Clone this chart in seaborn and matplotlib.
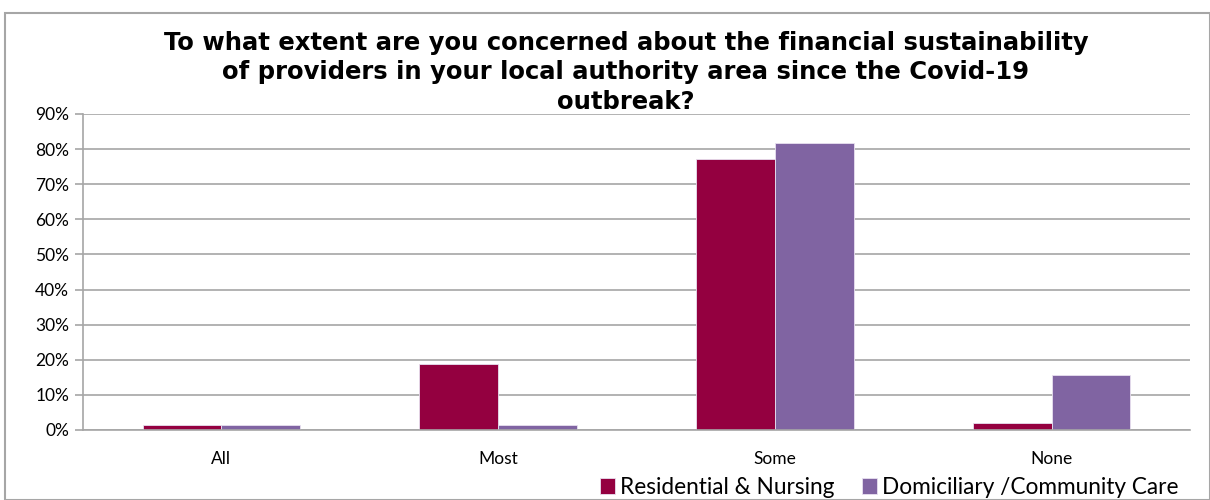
import matplotlib
matplotlib.use("Agg")
import matplotlib.pyplot as plt
import seaborn as sns
import pandas as pd
from matplotlib.patches import Rectangle
from matplotlib.ticker import PercentFormatter, MultipleLocator

categories = ["All", "Most", "Some", "None"]
series_names = ["Residential & Nursing", "Domiciliary /Community Care"]
residential = [1.3, 18.8, 77.2, 2.1]
domiciliary = [1.3, 1.3, 81.8, 15.7]
colors = ["#940040", "#8064A2"]
title = ("To what extent are you concerned about the financial sustainability\n"
         "of providers in your local authority area since the Covid-19\n"
         "outbreak?")

df = pd.DataFrame({
    "cat": categories * 2,
    "val": residential + domiciliary,
    "series": [series_names[0]] * 4 + [series_names[1]] * 4,
})

sns.set_theme(style="white")
plt.rcParams['font.family'] = ['Lato', 'DejaVu Sans']

fig = plt.figure(figsize=(12.1, 5.0), dpi=100)
fig.patches.append(Rectangle((5/1210, 0), 1 - 5/1210, 1 - 13/500, transform=fig.transFigure,
                             fill=False, edgecolor="#A6A6A6", linewidth=1.5))
ax = fig.add_axes([83/1210, 70/500, 1107/1210, 316/500])

sns.barplot(data=df, x="cat", y="val", hue="series", order=categories,
            hue_order=series_names, palette=colors, width=0.57, saturation=1,
            ax=ax, legend=True, edgecolor="#E8E0F0", linewidth=0.6)

ax.set_ylim(0, 90)
ax.set_xlim(-0.5, 3.5)
ax.yaxis.set_major_locator(MultipleLocator(10))
ax.yaxis.set_major_formatter(PercentFormatter(decimals=0))
ax.grid(axis="y", color="#A6A6A6", linewidth=1.2)
ax.set_axisbelow(True)
for s in ["top", "right"]:
    ax.spines[s].set_visible(False)
ax.spines["left"].set_color("#A6A6A6")
ax.spines["bottom"].set_color("#A6A6A6")
ax.spines["left"].set_linewidth(1.2)
ax.spines["bottom"].set_linewidth(1.2)
ax.set_xlabel("")
ax.set_ylabel("")
ax.set_xticks(range(4))
ax.set_xticklabels(categories)
ax.set_xticks([-0.5, 0.5, 1.5, 2.5, 3.5], minor=True)
ax.tick_params(axis="x", which="major", length=0, labelsize=12.5, pad=15, colors="#000000")
ax.tick_params(axis="x", which="minor", length=6, width=1.2, color="#A6A6A6", direction="out")
ax.tick_params(axis="y", length=6, width=1.2, color="#A6A6A6", labelsize=12.5, left=True, pad=4)
for lab in ax.get_xticklabels() + ax.get_yticklabels():
    lab.set_color("black")

handles, labels = ax.get_legend_handles_labels()
ax.legend_.remove()
fig.legend(handles, labels, loc="lower right", bbox_to_anchor=(1188/1210, -0.014),
           ncol=2, frameon=False, fontsize=16.3, handlelength=0.66, handleheight=0.66,
           handletextpad=0.25, columnspacing=1.2, borderaxespad=0, labelcolor="black")

fig.text(626/1210, 1 - 109/500, title, ha="center", va="baseline", fontsize=17.5,
         fontweight="bold", family=["DejaVu Sans"], linespacing=1.3, color="black")

fig.savefig("out.png", dpi=100)
